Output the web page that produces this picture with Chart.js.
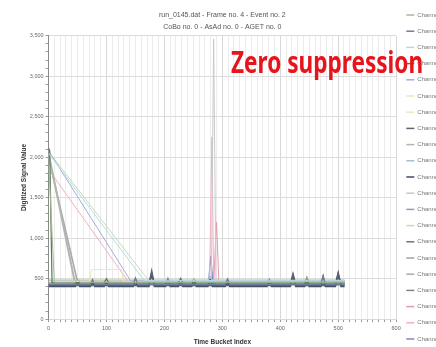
<!DOCTYPE html>
<html>
<head>
<meta charset="utf-8">
<script src="https://cdn.jsdelivr.net/npm/chart.js@4.4.1/dist/chart.umd.min.js"></script>
<style>
html, body { margin: 0; padding: 0; background: #fff; overflow: hidden; }
#marco { position: relative; width: 436px; height: 347px; overflow: hidden; }
#grafico { position: absolute; left: 0; top: -2px; }
#rotulo {
    position: absolute; left: 231px; top: 47px;
    font-family: "Noto Sans"; font-weight: 700; font-size: 30px; line-height: 1;
    color: #e8141c; white-space: nowrap; transform-origin: left top;
}
</style>
</head>
<body>
<div id="marco">
<canvas id="grafico" width="458" height="358"></canvas>
<div id="rotulo">Zero suppression</div>
</div>
<script>
"use strict";

////////////////////////////////////////////////////// textos
const tituloLineas = ["run_0145.dat - Frame no. 4 - Event no. 2", "CoBo no. 0 - AsAd no. 0 - AGET no. 0"];
const tituloX = "Time Bucket Index";
const tituloY = "Digitized Signal Value";
const marcasX = [0, 100, 200, 300, 400, 500, 600];
const marcasY = [0, 500, 1000, 1500, 2000, 2500, 3000, 3500];

////////////////////////////////////////////////////// canales: [time bucket, valor]
const ch00 = [[0, 1990], [10, 455], [46, 455], [50, 500], [54, 455], [247, 455], [251, 505], [255, 455], [442, 455], [446, 520], [450, 455], [511, 455]];
const ch01 = [[0, 430], [72, 430], [76, 485], [80, 430], [146, 430], [150, 505], [154, 430], [305, 430], [309, 495], [313, 430], [470, 430], [474, 530], [478, 430], [511, 430]];
const ch02 = [[0, 2050], [165, 478], [202, 478], [206, 520], [210, 478], [377, 478], [381, 510], [385, 478], [511, 478]];
const ch03 = [[0, 2110], [2, 2080], [6, 450], [96, 448], [100, 500], [104, 448], [224, 448], [228, 505], [232, 448], [511, 448]];
const ch04 = [[0, 2080], [142, 470], [511, 468]];
const ch05 = [[0, 462], [71, 462], [74, 612], [126, 612], [129, 462], [511, 462]];
const ch06 = [[0, 470], [511, 470]];
const ch07 = [[0, 415], [173, 415], [178, 590], [183, 415], [417, 415], [422, 555], [427, 415], [495, 415], [500, 570], [505, 415], [511, 415]];
const ch08 = [[0, 2050], [45, 468], [511, 466]];
const ch09 = [[0, 482], [275, 482], [279, 520], [283, 482], [511, 482]];
const ch10 = [[0, 405], [46, 405], [50, 470], [54, 405], [72, 405], [76, 475], [80, 405], [96, 405], [100, 470], [104, 405],
    [146, 405], [150, 490], [154, 405], [173, 405], [178, 560], [183, 405], [202, 405], [206, 490], [210, 405],
    [224, 405], [228, 470], [232, 405], [247, 405], [251, 470], [255, 405], [275, 405], [279, 490], [283, 405],
    [305, 405], [309, 470], [313, 405], [377, 405], [381, 480], [385, 405], [417, 405], [422, 540], [427, 405],
    [442, 405], [446, 500], [450, 405], [470, 405], [474, 520], [478, 405], [495, 405], [500, 555], [505, 405], [511, 405]];
const ch11 = [[0, 440], [281, 440], [285, 3460], [289, 440], [511, 440]];
const ch12 = [[0, 472], [511, 472]];
const ch13 = [[0, 2070], [173, 475], [511, 474]];
const ch14 = [[0, 425], [377, 425], [381, 470], [385, 425], [442, 425], [446, 480], [450, 425], [511, 425]];
const ch15 = [[0, 458], [511, 458]];
const ch16 = [[0, 2000], [50, 458], [511, 456]];
const ch17 = [[0, 445], [511, 445]];
const ch18 = [[0, 450], [285, 450], [290, 1200], [294, 450], [511, 450]];
const ch19 = [[0, 1850], [138, 460], [278, 460], [282, 2250], [285, 460], [511, 460]];
const ch20 = [[0, 435], [276, 435], [280, 780], [284, 435], [511, 435]];

const canales = [ch00, ch01, ch02, ch03, ch04, ch05, ch06, ch07, ch08, ch09, ch10,
    ch11, ch12, ch13, ch14, ch15, ch16, ch17, ch18, ch19, ch20];
const colores = ["#a8b79a", "#6f7e96", "#b3dbe3", "#4f7d48", "#a3addf", "#ece8b8", "#ebe8c6",
    "#5c6371", "#b4b5b1", "#a1bfd0", "#3e4a68", "#c6c9cd", "#8c9fb4", "#c6dcb6",
    "#6d737c", "#9ba3ad", "#a6a9ad", "#7d8591", "#e39aab", "#f4afc0", "#7f86c6"];
const grosores = [1, 1.4, 1, 1.2, 1, 1, 1, 1.6, 2, 1.4, 1.8, 1, 1.4, 1, 1.4, 1.4, 1.6, 1.4, 1, 1, 1.2];

////////////////////////////////////////////////////// datasets
var misDatasets = [];
canales.forEach((datos, i) => {
    misDatasets.push({
        label: "Channel " + i,
        data: datos,
        borderColor: colores[i],
        backgroundColor: colores[i],
        borderWidth: grosores[i],
        pointRadius: 0,
        tension: 0,
    });
});

const fuente = "'Liberation Sans', Arial, sans-serif";

////////////////////////////////////////////////////// gráfico
const ctx = document.getElementById("grafico").getContext("2d");
new Chart(ctx, {
    type: "line",
    data: { datasets: misDatasets },
    options: {
        responsive: false,
        animation: false,
        layout: { padding: { left: 20 } },
        plugins: {
            title: {
                display: true,
                text: tituloLineas,
                fullSize: false,
                color: "#555",
                font: { family: fuente, size: 7, weight: "normal", lineHeight: 1.7 },
                padding: { top: 11, bottom: 3 },
            },
            legend: {
                position: "right",
                align: "center",
                labels: {
                    boxWidth: 8,
                    boxHeight: 1.5,
                    padding: 10.2,
                    color: "#777",
                    font: { family: fuente, size: 6 },
                    generateLabels: (chart) =>
                        Chart.defaults.plugins.legend.labels.generateLabels(chart).map((l) => Object.assign(l, { lineWidth: 0 })),
                },
            },
            tooltip: { enabled: false },
        },
        scales: {
            x: {
                type: "linear",
                min: 0,
                max: 600,
                ticks: {
                    stepSize: 10,
                    autoSkip: false,
                    maxRotation: 0,
                    color: "#666",
                    font: { family: fuente, size: 5.5 },
                    callback: (v) => (marcasX.includes(v) ? v : ""),
                },
                grid: {
                    color: (c) => (c.tick.value === 0 ? "#cfe4b4" : c.tick.value % 100 === 0 ? "#d8d8d8" : "#ececec"),
                    tickColor: "#9a9a9a",
                    tickLength: 3,
                },
                border: { color: "#d2e4ae" },
                title: {
                    display: true,
                    text: tituloX,
                    color: "#333",
                    font: { family: fuente, size: 6.5, weight: "bold" },
                    padding: { top: 3.5, bottom: 10 },
                },
            },
            y: {
                min: 0,
                max: 3500,
                ticks: {
                    stepSize: 100,
                    autoSkip: false,
                    color: "#666",
                    padding: 2,
                    font: { family: fuente, size: 5.5 },
                    callback: (v) => (marcasY.includes(v) ? v.toLocaleString("en-US") : ""),
                },
                grid: {
                    color: (c) => (c.tick.value === 0 ? "#d6e6b4" : c.tick.value % 500 === 0 ? "#dcdcdc" : "rgba(0,0,0,0)"),
                    tickColor: "#9a9a9a",
                    tickLength: 3,
                },
                border: { color: "#8a8a8a" },
                title: {
                    display: true,
                    text: tituloY,
                    color: "#333",
                    font: { family: fuente, size: 6.5, weight: "bold" },
                    padding: { top: 0, bottom: 0 },
                },
            },
        },
    },
});

////////////////////////////////////////////////////// texto rojo
const rotulo = document.getElementById("rotulo");
const escala = 192 / rotulo.offsetWidth;
rotulo.style.transform = "scaleX(" + escala + ")";
</script>
</body>
</html>
